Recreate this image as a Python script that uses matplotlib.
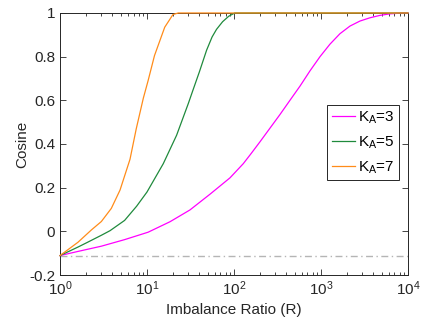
import numpy as np
import matplotlib
matplotlib.use("Agg")
import matplotlib.pyplot as plt
from matplotlib.ticker import FuncFormatter, LogLocator

plt.rcParams['font.family'] = ['Liberation Sans', 'DejaVu Sans']
plt.rcParams['mathtext.default'] = 'regular'

# Values
r_k3 = [1, 1.61, 2.99, 5.53, 10.3, 18.4, 31.2, 53, 90, 128, 158, 199, 338,
        440, 574, 748, 975, 1268, 1652, 2154, 2805, 3656, 4764, 6210, 7940,
        10000]
cos_k3 = [-0.111, -0.092, -0.068, -0.038, -0.004, 0.044, 0.098, 0.17, 0.245,
          0.31, 0.357, 0.41, 0.535, 0.6, 0.665, 0.735, 0.8, 0.857, 0.905,
          0.94, 0.963, 0.978, 0.989, 0.996, 0.999, 1.0]

r_k5 = [1, 1.61, 2.03, 2.99, 3.76, 5.53, 7.6, 10, 15.4, 21.9, 29.9, 34, 40,
        48.5, 56, 63, 74, 87, 102, 10000]
cos_k5 = [-0.111, -0.072, -0.052, -0.018, 0.003, 0.05, 0.115, 0.18, 0.31,
          0.44, 0.586, 0.65, 0.73, 0.83, 0.89, 0.925, 0.96, 0.985, 1.0, 1.0]

r_k7 = [1, 1.61, 2.29, 2.99, 3.89, 4.9, 6.38, 7.53, 9.08, 10.3, 12.2, 16,
        19.9, 22.9, 10000]
cos_k7 = [-0.111, -0.05, 0.006, 0.045, 0.105, 0.189, 0.33, 0.47, 0.61, 0.69,
          0.805, 0.935, 0.993, 1.0, 1.0]

baseline = -0.111
labels = [r'K$_{A}$=3', r'K$_{A}$=5', r'K$_{A}$=7']
colors = ['#ff00ff', '#1f8a3c', '#ff8c1a']

fig = plt.figure(figsize=(4.21, 3.23), dpi=100)
ax = fig.add_axes([0.1425, 0.1486, 0.8265, 0.8112])

ax.plot([1, 10000], [baseline, baseline], color='#b5b5b5', lw=1,
        dashes=(5, 2.5, 1, 2.5))
for r, c, col, lab in [(r_k3, cos_k3, colors[0], labels[0]),
                       (r_k5, cos_k5, colors[1], labels[1]),
                       (r_k7, cos_k7, colors[2], labels[2])]:
    ax.plot(r, c, color=col, lw=0.9, label=lab, zorder=3, clip_on=False)

ax.set_xscale('log')
ax.set_xlim(1, 10000)
ax.set_ylim(-0.2, 1)
ax.set_yticks([-0.2, 0, 0.2, 0.4, 0.6, 0.8, 1])
ax.yaxis.set_major_formatter(FuncFormatter(lambda v, p: f"{v:g}"))
ax.xaxis.set_minor_locator(LogLocator(base=10, subs=np.arange(2, 10), numticks=20))

ax.tick_params(which='both', direction='in', top=True, right=True,
               labelsize=11, colors='#262626')
ax.tick_params(which='major', length=4, width=0.6)
ax.tick_params(which='minor', length=2, width=0.6)
for s in ax.spines.values():
    s.set_linewidth(0.7)
    s.set_color('#262626')

ax.set_xlabel('Imbalance Ratio (R)', fontsize=11, color='#262626', labelpad=3)
ax.set_ylabel('Cosine', fontsize=11, color='#262626', labelpad=0)

leg = ax.legend(loc='upper right', bbox_to_anchor=(0.975, 0.649), fontsize=11,
                handlelength=1.5, handletextpad=0.2, borderpad=0.3,
                labelspacing=0.55, fancybox=False, framealpha=1,
                borderaxespad=0)
leg.get_frame().set_edgecolor('#262626')
leg.get_frame().set_linewidth(0.7)

fig.savefig('out.png', dpi=100)
